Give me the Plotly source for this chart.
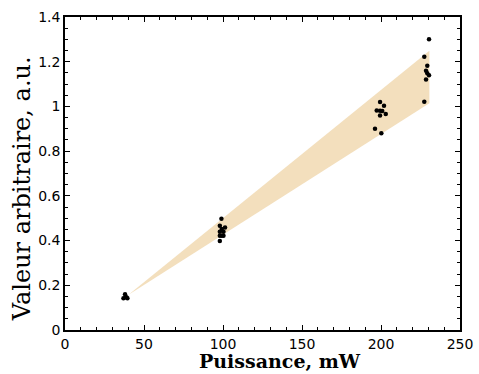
import plotly.graph_objects as go

# Measured points (Puissance mW, valeur a.u.)
x_pts = [38.0, 38.5, 39.5, 37.0, 39.0,
         99.0, 98.0, 101.3, 99.2, 98.0, 100.3, 99.2, 98.0, 100.3, 98.0,
         199.4, 201.9, 197.3, 199.4, 200.8, 203.0, 199.4, 196.2, 200.2,
         230.4, 227.4, 229.3, 228.5, 229.3, 230.4, 228.5, 227.4]
y_pts = [0.160, 0.148, 0.142, 0.142, 0.145,
         0.498, 0.466, 0.459, 0.452, 0.440, 0.440, 0.422, 0.422, 0.422, 0.398,
         1.020, 1.003, 0.982, 0.981, 0.979, 0.966, 0.959, 0.900, 0.880,
         1.300, 1.222, 1.182, 1.160, 1.148, 1.140, 1.121, 1.021]

# Confidence band polygon
band_x = [40.0, 230.6, 230.6, 40.0]
band_y = [0.157, 1.249, 1.014, 0.157]

x_ticks = [0, 50, 100, 150, 200, 250]
y_ticks = [0, 0.2, 0.4, 0.6, 0.8, 1, 1.2, 1.4]
y_tick_text = ["0", "0.2", "0.4", "0.6", "0.8", "1", "1.2", "1.4"]

x_title = "Puissance, mW"
y_title = "Valeur arbitraire, a.u."

fig = go.Figure()
fig.add_trace(go.Scatter(x=band_x, y=band_y, fill="toself", mode="none",
                         fillcolor="#F3DFBD", hoverinfo="skip", showlegend=False))
fig.add_trace(go.Scatter(x=x_pts, y=y_pts, mode="markers",
                         marker=dict(color="black", size=4.5), showlegend=False))

axis_common = dict(showline=True, linecolor="black", linewidth=1.5, mirror="ticks",
                   ticks="inside", ticklen=5, tickwidth=1, tickcolor="black",
                   showgrid=False, zeroline=False, automargin=False,
                   tickfont=dict(family="DejaVu Sans", size=14, color="black"))

fig.update_layout(
    width=479, height=374,
    margin=dict(l=65, r=19, t=17, b=44),
    plot_bgcolor="white", paper_bgcolor="white",
    xaxis=dict(range=[0, 250], tickvals=x_ticks,
               minor=dict(dtick=10, ticks="inside", ticklen=3, tickcolor="black"),
               **axis_common),
    yaxis=dict(range=[0, 1.4], tickvals=y_ticks, ticktext=y_tick_text,
               minor=dict(dtick=0.05, ticks="inside", ticklen=3, tickcolor="black"),
               **axis_common),
    annotations=[
        dict(text="<b>" + x_title + "</b>", xref="paper", yref="paper",
             x=0.544, y=-0.099, xanchor="center", yanchor="middle", showarrow=False,
             borderpad=0,
             font=dict(family="DejaVu Serif", size=19, color="black")),
        dict(text=y_title, xref="paper", yref="paper", textangle=-90,
             x=-0.109, y=0.453, xanchor="center", yanchor="middle", showarrow=False,
             borderpad=0,
             font=dict(family="DejaVu Serif", size=24, color="black")),
    ],
)

fig.write_html("out.html", config={"displayModeBar": False},
               post_script="document.body.style.margin='0';")
